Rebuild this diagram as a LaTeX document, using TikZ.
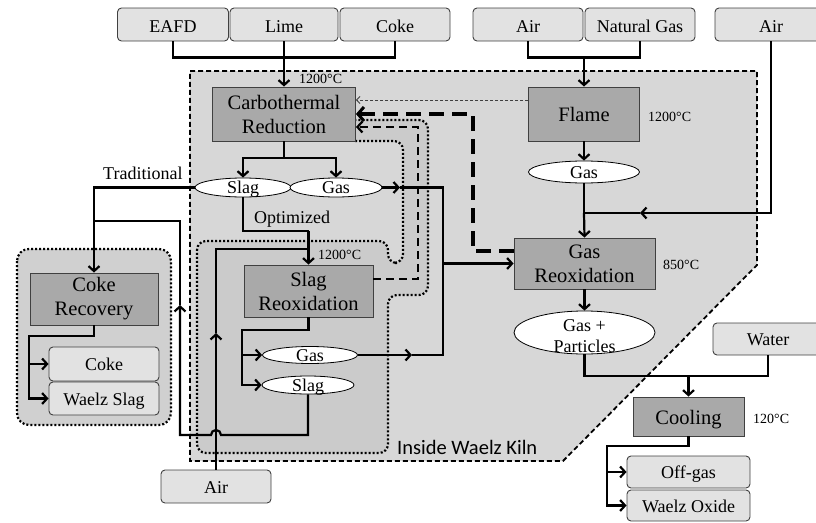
\documentclass[tikz,border=0pt]{standalone}
\usepackage{fontspec}
\setmainfont{Liberation Serif}
\newfontfamily\kilnfont{Carlito}
\usetikzlibrary{arrows.meta,shapes.geometric}
\newcommand\fsInput{\fontsize{18}{21}\selectfont}
\newcommand\fsProc{\fontsize{20.5}{24}\selectfont}
\newcommand\fsTemp{\fontsize{14}{16}\selectfont}
\definecolor{inputfill}{HTML}{E2E2E2}
\definecolor{boxline}{HTML}{404040}
\definecolor{procfill}{HTML}{A9A9A9}
\definecolor{kilnfill}{HTML}{D7D7D7}
\definecolor{cokegroup}{HTML}{D0D0D0}
\definecolor{slaggroup}{HTML}{CBCBCB}
\begin{document}
\begin{tikzpicture}[x=1pt,y=-1pt,
  inbox/.style={draw=boxline, fill=inputfill, rounded corners=4pt, line width=0.9pt, inner sep=0pt, font=\fsInput, text height=13pt, text depth=0pt},
  topin/.style={inbox, minimum height=33pt, text height=16pt},
  procbox/.style={draw=boxline, fill=procfill, line width=0.9pt, inner sep=0pt, font=\fsProc},
  proctwo/.style={procbox, align=center},
  procone/.style={procbox, text height=15pt, text depth=0pt},
  stream/.style={ellipse, draw=black, fill=white, line width=0.8pt, inner sep=0pt, font=\fsInput, text height=12pt, text depth=0pt},
  temp/.style={anchor=base west, inner sep=0pt, font=\fsTemp},
  lbl/.style={anchor=base west, inner sep=0pt, font=\fsInput},
  flow/.style={line width=2.2pt, draw=black},
  arr/.style={-{Straight Barb[length=5pt,width=11pt]}},
  kilnline/.style={draw=black, line width=1.8pt, dash pattern=on 5pt off 3pt, fill=kilnfill},
  dotline/.style={draw=black, line width=2.2pt, dash pattern=on 2pt off 2pt},
  thinret/.style={draw=boxline, line width=0.9pt, dash pattern=on 3pt off 2pt, -{Straight Barb[length=3.5pt,width=7pt,line width=0.9pt]}},
  thickret/.style={draw=black, line width=3.8pt, dash pattern=on 15pt off 8pt, -{Straight Barb[length=6pt,width=14pt,line width=3pt]}},
  medret/.style={draw=black, line width=2.2pt, dash pattern=on 8pt off 5pt, -{Straight Barb[length=5pt,width=11pt]}},
]
\useasboundingbox (0,0) rectangle (816,522);
\clip (0,0) rectangle (816,522);

% kiln region
\draw[kilnline] (190,71) -- (757,71) -- (757,265) -- (563,461) -- (190,461) -- cycle;
\node[anchor=base west, inner sep=0pt, font=\kilnfont\fontsize{20.5}{24}\selectfont] (kilnlabel) at (397,454) {Inside Waelz Kiln};

% coke recovery group
\draw[dotline, fill=cokegroup, rounded corners=12pt] (17,249) rectangle (171,425);

% slag reoxidation group
\draw[dotline, fill=slaggroup, rounded corners=9pt] (355,141) -- (403,141) -- (403,263) -- (388,263) -- (388,241) -- (197,241) -- (197,453) -- (388,453) -- (388,295) -- (428,295) -- (428,120) -- (355,120);

% input boxes
\node[topin, minimum width=111pt] (eafd) at (173,24.5) {EAFD};
\node[topin, minimum width=108pt] (lime) at (284,24.5) {Lime};
\node[topin, minimum width=110pt] (cokein) at (395,24.5) {Coke};
\node[topin, minimum width=110pt] (air1) at (528,24.5) {Air};
\node[topin, minimum width=110pt] (ng) at (640,24.5) {Natural Gas};
\node[topin, minimum width=112pt] (air2) at (771,24.5) {Air};
\node[inbox, minimum width=110pt, minimum height=32pt] (water) at (768,339) {Water};
\node[inbox, minimum width=123pt, minimum height=32pt] (offgas) at (688.5,472) {Off-gas};
\node[inbox, minimum width=123pt, minimum height=31pt] (waelzox) at (688.5,505.5) {Waelz Oxide};
\node[inbox, minimum width=110pt, minimum height=34pt] (cokeout) at (104,364) {Coke};
\node[inbox, minimum width=110pt, minimum height=33pt] (wslag) at (104,398.5) {Waelz Slag};
\node[inbox, minimum width=110pt, minimum height=33pt] (airb) at (216,486.5) {Air};

% process boxes
\node[proctwo, minimum width=143pt, minimum height=54pt] (carbo) at (284,114) {Carbothermal\\Reduction};
\node[procone, minimum width=111pt, minimum height=54pt] (flame) at (584,114) {Flame};
\node[proctwo, minimum width=141pt, minimum height=51pt] (gasreox) at (584.5,263.5) {Gas\\Reoxidation};
\node[proctwo, minimum width=129pt, minimum height=52pt] (slagreox) at (308.5,291) {Slag\\Reoxidation};
\node[proctwo, minimum width=128pt, minimum height=52pt] (cokerec) at (94,299) {Coke\\Recovery};
\node[procone, minimum width=111pt, minimum height=39pt] (cooling) at (688.5,416.5) {Cooling};

% streams
\node[stream, minimum width=96pt, minimum height=19pt] (slag1) at (243,187.5) {Slag};
\node[stream, minimum width=92pt, minimum height=19pt] (gas1) at (336,187.5) {Gas};
\node[stream, minimum width=111pt, minimum height=22pt] (flamegas) at (584,172) {Gas};
\node[stream, minimum width=95pt, minimum height=17pt] (gas2) at (310,355) {Gas};
\node[stream, minimum width=92pt, minimum height=18pt] (slag2) at (308,385) {Slag};
\node[stream, minimum width=141pt, minimum height=43pt] (gp) at (584.5,332.5) {};
\node[align=center, inner sep=0pt, font=\fsInput] (gptext) at (584.5,336) {Gas +\\Particles};

% temperatures and labels
\node[temp] (t1) at (299,83) {1200°C};
\node[temp] (t2) at (648,121) {1200°C};
\node[temp] (t3) at (318,259) {1200°C};
\node[temp] (t4) at (663,269) {850°C};
\node[temp] (t5) at (753,423) {120°C};
\node[lbl] (trad) at (103,179) {Traditional};
\node[lbl] (opt) at (254,223) {Optimized};

% junction coordinates
\coordinate (jcarb) at (284,158);
\coordinate (jair) at (584,213);
\coordinate (airmid) at (640,213);
\coordinate (jw) at (768,376);
\coordinate (jc) at (607,446);
\coordinate (jk) at (29,336);
\coordinate (jg) at (443,263.5);
\coordinate (g1mid) at (400,187.5);
\coordinate (g2mid) at (412,355);
\coordinate (jopt) at (308.5,231);
\coordinate (jairb) at (308.5,249);
\coordinate (abmid) at (216,333);
\coordinate (jsr) at (242,330);
\coordinate (hopr) at (221,435);
\coordinate (rmid) at (180,305);
\coordinate (rjoin) at (94,221);

% feed lines
\draw[flow] (eafd.south) -- ++(0,16) -| (cokein.south);
\draw[flow, arr] (lime.south) -- (carbo.north);
\draw[flow] (air1.south) -- ++(0,16) -| (ng.south);
\draw[flow, arr] (flame.north |- 0,57) -- (flame.north);
\draw[flow, arr] (air2.south) |- (airmid);
\draw[flow] (airmid) -- (jair);

% flame / gas reoxidation
\draw[flow, arr] (flame.south) -- (flamegas.north);
\draw[flow] (flamegas.south) -- (jair);
\draw[flow, arr] (jair) -- (gasreox.north);
\draw[flow, arr] (gasreox.south) -- (gp.north);
\draw[flow] (gp.south) |- (jw) -- (water.south);
\draw[flow, arr] (cooling.north |- jw) -- (cooling.north);
\draw[flow, arr] (cooling.south) |- (jc) |- (waelzox.west);
\draw[flow, arr] (jc |- offgas.west) -- (offgas.west);

% carbothermal outputs
\draw[flow, arr] (carbo.south) -- (jcarb) -| (slag1.north);
\draw[flow, arr] (jcarb) -| (gas1.north);
\draw[flow, arr] (gas1.east) -- (g1mid);
\draw[flow] (g1mid) -| (jg);
\draw[flow, arr] (jg) -- (gasreox.west);
\draw[flow, arr] (slag1.west) -| (cokerec.north);
\draw[flow] (slag1.south) |- (jopt);
\draw[flow, arr] (jopt) -- (slagreox.north);

% air into slag reoxidation
\draw[flow, arr] (airb.north) -- (abmid);
\draw[flow] (abmid) |- (jairb);

% slag reoxidation outputs
\draw[flow, arr] (slagreox.south) |- (jsr) |- (slag2.west);
\draw[flow, arr] (jsr |- gas2.west) -- (gas2.west);
\draw[flow, arr] (gas2.east) -- (g2mid);
\draw[flow] (g2mid) -| (jg);
\draw[flow, arr] (slag2.south) |- (hopr) arc[start angle=0, end angle=180, radius=5pt] -| (rmid);
\draw[flow] (rmid) |- (rjoin);

% coke recovery outputs
\draw[flow, arr] (cokerec.south) |- (jk) |- (wslag.west);
\draw[flow, arr] (jk |- cokeout.west) -- (cokeout.west);

% recycle lines
\draw[thinret] (flame.west |- 0,100) -- (carbo.east |- 0,100);
\draw[thickret] (gasreox.west |- 0,251) -| (473,114) -- (carbo.east);
\draw[medret] (slagreox.east |- 0,279) -| (418,127) -- (carbo.east |- 0,127);
\end{tikzpicture}
\end{document}
